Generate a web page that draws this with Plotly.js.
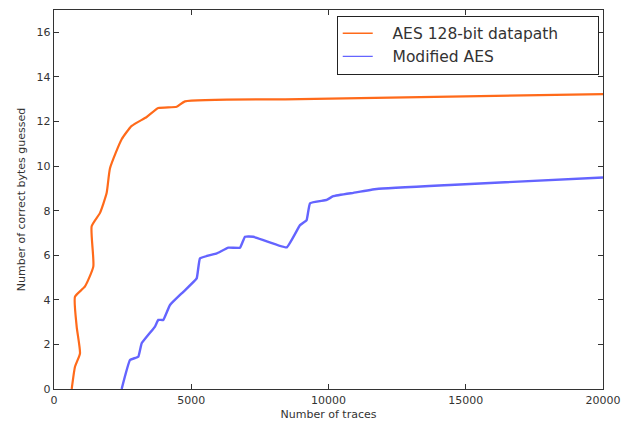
<!DOCTYPE html>
<html>
<head>
<meta charset="utf-8">
<script src="https://cdn.plot.ly/plotly-3.0.1.min.js"></script>
<style>html,body{margin:0;padding:0;background:#fff;}#chart{width:629px;height:426px;}</style>
</head>
<body>
<div id="chart"></div>
<script>
const aesX = [645, 765, 947, 826, 765, 1129, 1433, 1372, 1676, 1919, 2040, 2465, 2830, 3376, 3800, 4469, 4772, 8962, 20000];
const aesY = [0, 1.0, 1.6, 2.8, 4.14, 4.6, 5.5, 7.3, 7.9, 8.8, 9.9, 11.2, 11.8, 12.2, 12.6, 12.66, 12.9, 13.0, 13.23];
const modX = [2465, 2769, 3072, 3194, 3680, 3800, 3983, 4226, 4711, 5197, 5319, 5926, 6351, 6776, 6958, 7261, 8476, 8962, 9204, 9326, 9933, 10175, 10904, 11756, 14426, 20000];
const modY = [0, 1.3, 1.45, 2.05, 2.8, 3.1, 3.1, 3.77, 4.36, 4.96, 5.86, 6.08, 6.34, 6.34, 6.83, 6.83, 6.35, 7.35, 7.58, 8.33, 8.48, 8.65, 8.8, 8.97, 9.15, 9.49];
const xTicks = [0, 5000, 10000, 15000, 20000];
const yTicks = [0, 2, 4, 6, 8, 10, 12, 14, 16];
const seriesNames = ['AES 128-bit datapath', 'Modified AES'];
const colors = ['#ff6a1a', '#6464ff'];

const font = {family: 'DejaVu Sans, sans-serif', color: '#222'};
const pad = '\u00a0\u00a0\u00a0';
const tail = '\u00a0\u00a0\u00a0\u00a0\u00a0\u00a0\u00a0';
const traces = [
  {x: aesX, y: aesY, mode: 'lines', name: seriesNames[0], showlegend: false, line: {color: colors[0], width: 2.2, shape: 'spline', smoothing: 0.5}},
  {x: modX, y: modY, mode: 'lines', name: seriesNames[1], showlegend: false, line: {color: colors[1], width: 2.4, shape: 'spline', smoothing: 0.3}},
  {x: [null], y: [null], mode: 'lines', name: pad + seriesNames[0] + tail, line: {color: colors[0], width: 1.3}},
  {x: [null], y: [null], mode: 'lines', name: pad + seriesNames[1], line: {color: colors[1], width: 1.3}}
];
const axisCommon = {showline: true, linecolor: '#333', linewidth: 1.3, mirror: 'ticks', ticks: 'inside', ticklen: 5, tickcolor: '#333', showgrid: false, zeroline: false, tickfont: {size: 11, family: font.family, color: '#333'}};
const layout = {
  width: 629, height: 426,
  margin: {l: 54, r: 26, t: 10, b: 37},
  paper_bgcolor: '#fff', plot_bgcolor: '#fff',
  font: font,
  showlegend: true,
  legend: {x: 0.515, y: 0.985, xanchor: 'left', yanchor: 'top', bordercolor: '#222', borderwidth: 1, bgcolor: '#fff', font: {size: 15.5, family: font.family, color: '#333'}, tracegroupgap: 0, itemwidth: 30},
  xaxis: Object.assign({}, axisCommon, {range: [0, 20000], tickvals: xTicks, ticktext: xTicks.map(String), title: {text: 'Number of traces', font: {size: 11, color: '#333'}, standoff: 4}}),
  yaxis: Object.assign({}, axisCommon, {range: [0, 17], tickvals: yTicks, ticktext: yTicks.map(String), title: {text: 'Number of correct bytes guessed', font: {size: 11, color: '#333'}, standoff: 8}})
};
Plotly.newPlot('chart', traces, layout, {displayModeBar: false, staticPlot: true});
</script>
</body>
</html>
